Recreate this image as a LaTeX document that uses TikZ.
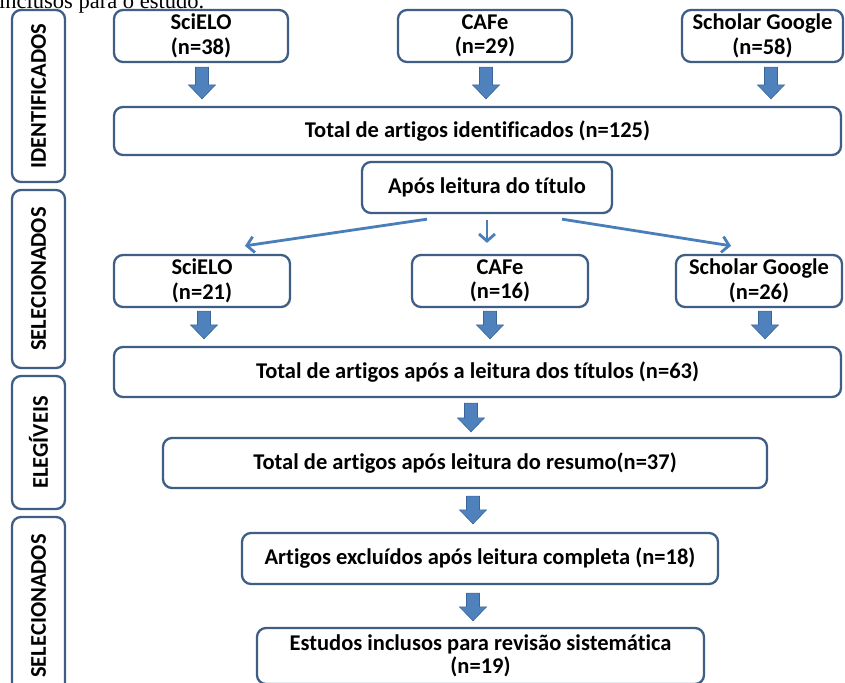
\documentclass[tikz,border=0pt]{standalone}
\usepackage{fontspec}
\setmainfont{Carlito}[Ligatures=CommonOff]
\newfontfamily\serifx{Liberation Serif}
\usetikzlibrary{arrows.meta,calc}
\definecolor{bordc}{HTML}{3F5E86}
\definecolor{arrfill}{HTML}{4F81BD}
\definecolor{arredge}{HTML}{3A659B}
\definecolor{thinc}{HTML}{4A7EBB}
\newcommand\blockar[2]{%
  \path[fill=arrfill, draw=arredge, line width=0.6pt] let \p1=#1, \p2=#2 in
    (\x1-6.5pt,\y1) -- (\x1+6.5pt,\y1) -- (\x1+6.5pt,\y2+14pt) -- (\x1+13.5pt,\y2+14pt)
    -- (\x1,\y2) -- (\x1-13.5pt,\y2+14pt) -- (\x1-6.5pt,\y2+14pt) -- cycle;}
\begin{document}
\begin{tikzpicture}[x=1pt,y=-1pt,
  box/.style={draw=bordc, line width=2.3pt, rounded corners=9pt, fill=white,
    align=center, inner sep=0pt, font=\fontsize{22.5}{24.5}\selectfont\bfseries},
  sidebox/.style={box, rotate=90, minimum height=53pt},
  thinarr/.style={draw=thinc, line width=2.8pt, -{Straight Barb[length=7pt,width=16pt]}}]
\useasboundingbox (0,0) rectangle (845,682);
\clip (0,0) rectangle (845,682);
\node[anchor=base west, font=\serifx\fontsize{22.5}{26}\selectfont, inner sep=0pt] (cap) at (-1,9) {inclusos para o estudo.};
% side labels
\node[sidebox, minimum width=172pt] (lid) at (38.5,96) {IDENTIFICADOS};
\node[sidebox, minimum width=178pt] (lsel1) at (38.5,279) {SELECIONADOS};
\node[sidebox, minimum width=133pt] (lele) at (38.5,442.5) {ELEGÍVEIS};
\node[sidebox, minimum width=178pt] (lsel2) at (38.5,606) {SELECIONADOS};
% row 1
\node[box, minimum width=174pt, minimum height=52pt] (s1) at (201,36) {SciELO\\(n=38)};
\node[box, minimum width=174pt, minimum height=52pt] (c1) at (485,36) {CAFe\\(n=29)};
\node[box, minimum width=161pt, minimum height=52pt] (g1) at (762.5,36) {Scholar Google\\(n=58)};
\node[box, minimum width=727pt, minimum height=48pt] (tot1) at (477.5,131) {Total de artigos identificados (n=125)};
\node[box, minimum width=250pt, minimum height=51pt] (apos) at (487,187.5) {Após leitura do título};
% row 2
\node[box, minimum width=176pt, minimum height=52pt] (s2) at (202,281) {SciELO\\(n=21)};
\node[box, minimum width=176pt, minimum height=52pt] (c2) at (500,281) {CAFe\\(n=16)};
\node[box, minimum width=166pt, minimum height=52pt] (g2) at (759,281) {Scholar Google\\(n=26)};
\node[box, minimum width=727pt, minimum height=50pt] (tot2) at (477.5,372) {Total de artigos após a leitura dos títulos (n=63)};
\node[box, minimum width=604pt, minimum height=50pt] (res) at (465,463) {Total de artigos após leitura do resumo(n=37)};
\node[box, minimum width=476pt, minimum height=51pt] (exc) at (480,558.5) {Artigos excluídos após leitura completa (n=18)};
\node[box, minimum width=447pt, minimum height=56pt, font=\fontsize{22.5}{22.5}\selectfont\bfseries] (est) at (480.5,656) {Estudos inclusos para revisão sistemática\\(n=19)};
% block arrows
\blockar{($(s1.south)+(1,4)$)}{($(s1.south |- tot1.north)+(1,-7)$)}
\blockar{($(c1.south)+(1,4)$)}{($(c1.south |- tot1.north)+(1,-7)$)}
\blockar{($(g1.south)+(8.5,4)$)}{($(g1.south |- tot1.north)+(8.5,-7)$)}
\blockar{($(s2.south)+(2,3)$)}{($(s2.south |- tot2.north)+(2,-7)$)}
\blockar{($(c2.south)+(-10,3)$)}{($(c2.south |- tot2.north)+(-10,-7)$)}
\blockar{($(g2.south)+(6,3)$)}{($(g2.south |- tot2.north)+(6,-7)$)}
\blockar{($(tot2.south)+(-6.5,5)$)}{($(tot2.south |- res.north)+(-6.5,-5)$)}
\blockar{($(res.south)+(8,7)$)}{($(res.south |- exc.north)+(8,-8)$)}
\blockar{($(exc.south)+(-7,8)$)}{($(exc.south |- est.north)+(-7,-6)$)}
% thin arrows
\draw[thinarr] ($(apos.south)+(-60,5)$) -- ($(s2.north)+(43,-8)$);
\draw[thinarr] ($(apos.south)+(0,6)$) -- ($(apos.south |- c2.north)+(0,-11)$);
\draw[thinarr] ($(apos.south)+(75,5)$) -- ($(g2.north)+(-28,-8)$);
\end{tikzpicture}
\end{document}
